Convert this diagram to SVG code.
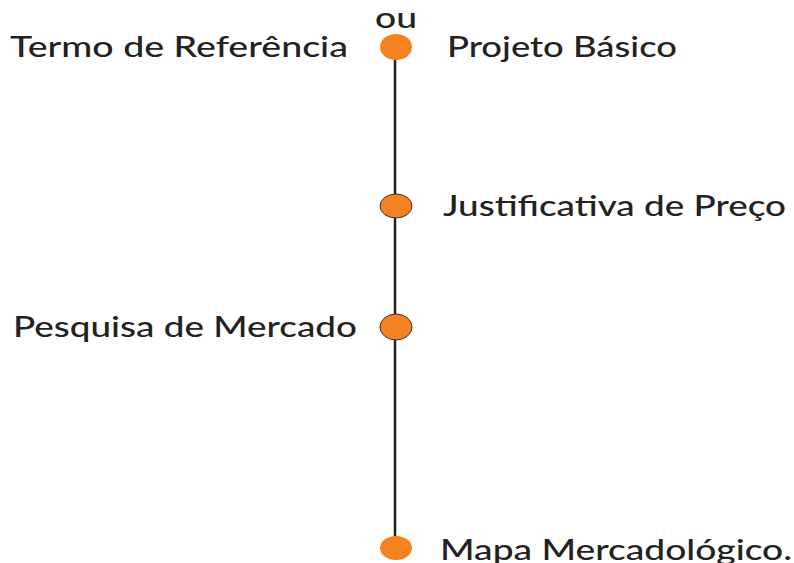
<svg xmlns="http://www.w3.org/2000/svg" width="794" height="563" viewBox="0 0 794 563">
<style>
.t{font-family:"Lato","Liberation Sans",sans-serif;font-size:29px;font-weight:500;fill:#222;}
.dot{fill:#f58220;}
.ds{stroke:#333;stroke-width:1;}
</style>
<rect width="794" height="563" fill="#fff"/>
<g id="connectors"><line x1="395" y1="47" x2="395" y2="548" stroke="#222" stroke-width="2.5"/></g>
<g id="n1"><ellipse class="dot" cx="396" cy="47" rx="16" ry="13"/><text class="t" x="10" y="57" textLength="338" lengthAdjust="spacingAndGlyphs">Termo de Referência</text><text class="t" x="375" y="28" font-size="24" textLength="42" lengthAdjust="spacingAndGlyphs">ou</text><text class="t" x="447" y="57" textLength="230" lengthAdjust="spacingAndGlyphs">Projeto Básico</text></g>
<g id="n2"><ellipse class="dot ds" cx="396" cy="206" rx="16" ry="12"/><text class="t" x="443" y="216" textLength="343" lengthAdjust="spacingAndGlyphs">Justificativa de Preço</text></g>
<g id="n3"><ellipse class="dot ds" cx="396" cy="327" rx="16" ry="13"/><text class="t" x="13" y="337" textLength="344" lengthAdjust="spacingAndGlyphs">Pesquisa de Mercado</text></g>
<g id="n4"><ellipse class="dot" cx="396" cy="548" rx="16" ry="12"/><text class="t" x="440" y="560" textLength="352" lengthAdjust="spacingAndGlyphs">Mapa Mercadológico.</text></g>
</svg>
